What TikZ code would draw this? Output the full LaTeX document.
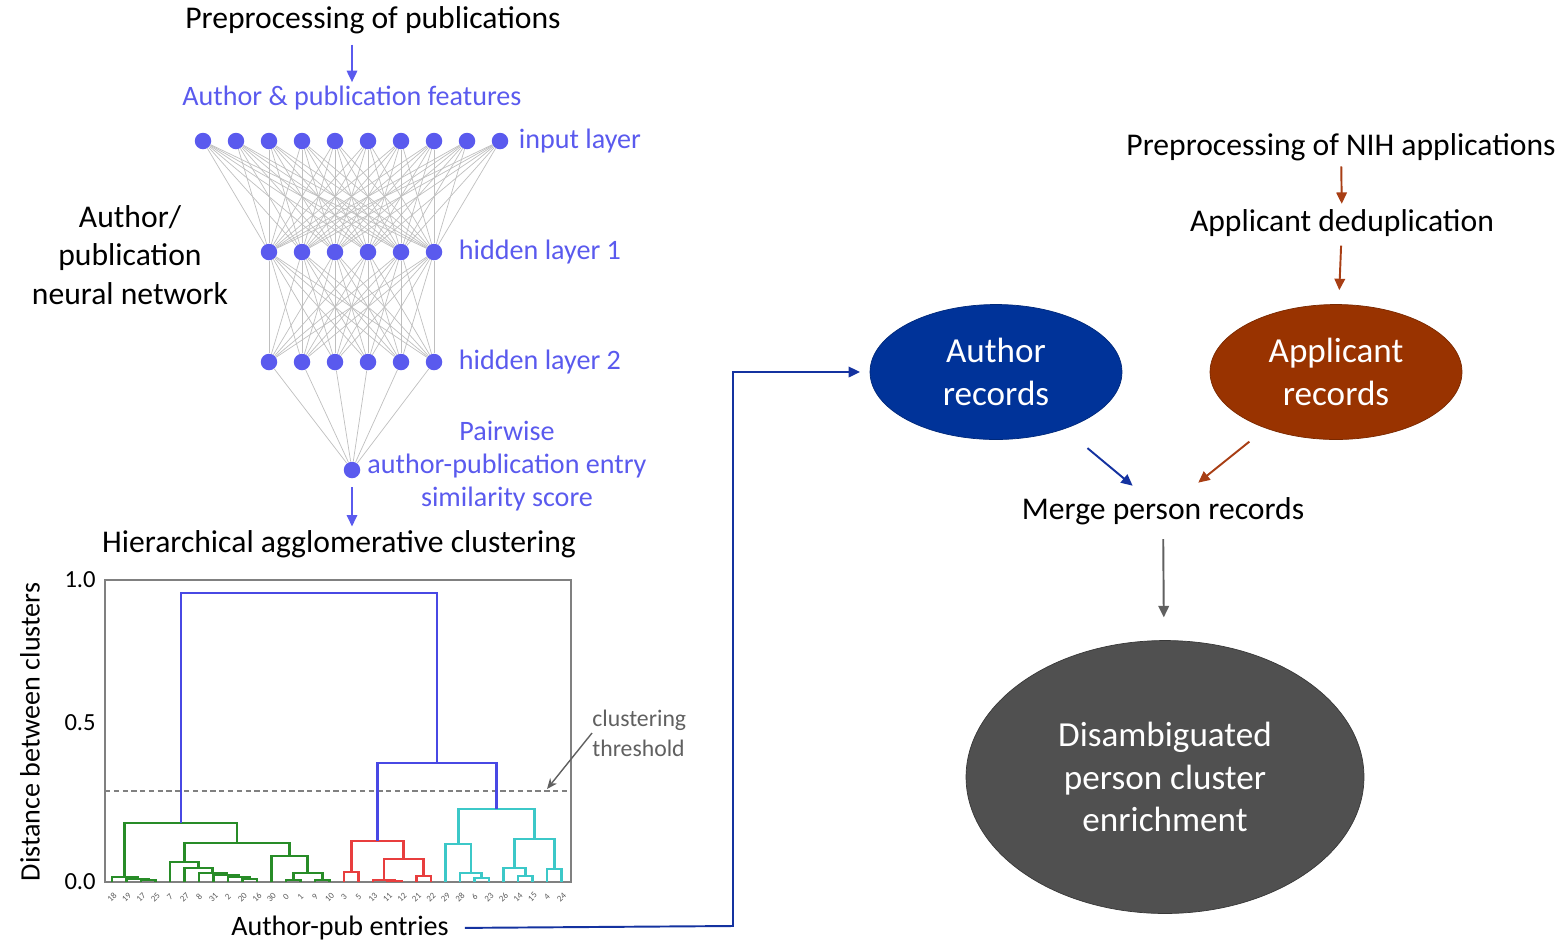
\documentclass[tikz,border=0pt]{standalone}
\usepackage{fontspec}
\setmainfont{Carlito}
\usetikzlibrary{arrows.meta,positioning,calc,shapes.geometric}

\definecolor{nnblue}{RGB}{90,90,238}
\definecolor{authblue}{RGB}{0,51,153}
\definecolor{applbrown}{RGB}{153,51,0}
\definecolor{arrbrown}{RGB}{168,62,20}
\definecolor{connblue}{RGB}{20,50,160}
\definecolor{darkcl}{RGB}{80,80,80}
\definecolor{dgreen}{RGB}{40,140,40}
\definecolor{dred}{RGB}{232,62,62}
\definecolor{dcyan}{RGB}{60,200,200}
\definecolor{dblue}{RGB}{72,72,228}

\tikzset{
  txt/.style={inner sep=0pt, font=\fontsize{18}{21.8}\selectfont},
  nntxt/.style={inner sep=0pt, text=nnblue, font=\fontsize{16}{18.7}\selectfont},
  axtxt/.style={inner sep=0pt, font=\fontsize{14}{17}\selectfont},
  leaflab/.style={inner sep=0pt, rotate=45, text=gray!70!black, font=\fontsize{5}{6}\selectfont},
  neuron/.style={circle, fill=nnblue, inner sep=0pt, minimum size=0.33cm},
  synapse/.style={draw=gray!50, line width=0.4pt},
  tip/.style={-{Triangle[length=6.5pt,width=6pt]}},
  nnarrow/.style={tip, draw=nnblue, line width=0.9pt},
  brarrow/.style={tip, draw=arrbrown, line width=1.1pt},
  blarrow/.style={tip, draw=connblue, line width=1.1pt},
  grarrow/.style={tip, draw=gray!75!black, line width=1.1pt},
  dendro/.style={line width=1.5pt},
  recnode/.style={ellipse, minimum width=5.04cm, minimum height=2.7cm, inner sep=0pt,
    text=white, align=center, font=\fontsize{20}{24.4}\selectfont},
}

% one U-shaped link of the dendrogram
\newcommand{\dlink}[6]{\draw[dendro,#6] (#1,#2) |- (#3,#5) -- (#3,#4);}

\begin{document}
\begin{tikzpicture}[x=0.02cm,y=-0.02cm]
\useasboundingbox (0,0) rectangle (1565,941);

% neural network
\node[txt] (prep) at (373,20) {Preprocessing of publications};
\node[nntxt] (feat) at (352,98) {Author \& publication features};
\foreach \i in {1,...,10}
  \node[neuron] (in\i) at ({170+33*\i},141) {};
\foreach \i in {1,...,6} {
  \node[neuron] (ha\i) at ({236+33*\i},252) {};
  \node[neuron] (hb\i) at ({236+33*\i},362) {};
}
\node[neuron] (out) at (352,470) {};
\foreach \i in {1,...,10}
  \foreach \j in {1,...,6}
    \draw[synapse] (in\i) -- (ha\j);
\foreach \i in {1,...,6} {
  \foreach \j in {1,...,6}
    \draw[synapse] (ha\i) -- (hb\j);
  \draw[synapse] (hb\i) -- (out);
}
\node[nntxt, right=0.2cm of in10] (inlab) {input layer};
\node[nntxt, right=0.32cm of ha6] (halab) {hidden layer 1};
\node[nntxt, right=0.32cm of hb6] (hblab) {hidden layer 2};
\node[nntxt, align=center] (pairlab) at (507,466)
  {Pairwise\\author-publication entry\\similarity score};
\node[txt, align=center] (nnlab) at (130,255)
  {Author/\\publication\\neural network};
\draw[nnarrow, shorten <=6pt, shorten >=2pt] (prep.south -| feat) -- (feat);

% dendrogram
\node[txt] (hac) at (339,544) {Hierarchical agglomerative clustering};
\draw[nnarrow, shorten <=5pt, shorten >=2pt] (out) -- (out |- hac.north);
\draw[gray, line width=0.9pt] (105,580) rectangle (571,882);
\node[axtxt, anchor=east] (t10) at (96,580) {1.0};
\node[axtxt, anchor=east] (t05) at (96,723) {0.5};
\node[axtxt, anchor=east] (t00) at (96,882) {0.0};
\node[txt, rotate=90, font=\fontsize{16}{19}\selectfont] (ylab) at (30,732) {Distance between clusters};
\draw[gray, dashed, dash pattern=on 3pt off 2pt, line width=0.6pt] (105,791) -- (571,791);
\dlink{141}{882}{155.5}{882}{880}{dgreen}
\dlink{126.5}{882}{148.25}{880}{879}{dgreen}
\dlink{112}{882}{137.4}{879}{877}{dgreen}
\dlink{242.5}{882}{257}{882}{879}{dgreen}
\dlink{228}{882}{249.75}{879}{877}{dgreen}
\dlink{213.5}{882}{238.9}{877}{875}{dgreen}
\dlink{199}{882}{226.2}{875}{873}{dgreen}
\dlink{184.5}{882}{212.6}{873}{868}{dgreen}
\dlink{170}{882}{198.5}{868}{862}{dgreen}
\dlink{286}{882}{300.5}{882}{880}{dgreen}
\dlink{315}{882}{329.5}{882}{880}{dgreen}
\dlink{293.25}{880}{322.25}{880}{873}{dgreen}
\dlink{271.5}{882}{307.75}{873}{856}{dgreen}
\dlink{184.3}{862}{289.6}{856}{843}{dgreen}
\dlink{124.7}{877}{237}{843}{823}{dgreen}
\dlink{344}{882}{358.5}{882}{872}{dred}
\dlink{387.5}{882}{402}{882}{881}{dred}
\dlink{373}{882}{394.75}{881}{880}{dred}
\dlink{416.5}{882}{431}{882}{876}{dred}
\dlink{383.9}{880}{423.75}{876}{859}{dred}
\dlink{351.25}{872}{403.8}{859}{841}{dred}
\dlink{474.5}{882}{489}{882}{878}{dcyan}
\dlink{460}{882}{481.75}{878}{873}{dcyan}
\dlink{445.5}{882}{470.9}{873}{844}{dcyan}
\dlink{518}{882}{532.5}{882}{876}{dcyan}
\dlink{503.5}{882}{525.25}{876}{868}{dcyan}
\dlink{547}{882}{561.5}{882}{869}{dcyan}
\dlink{514.4}{868}{554.25}{869}{839}{dcyan}
\dlink{458.2}{844}{534.3}{839}{809}{dcyan}
\dlink{377.5}{841}{496.3}{809}{763}{dblue}
\dlink{180.9}{823}{436.9}{763}{593}{dblue}
\foreach \lab [count=\k from 0] in {18,19,17,25,7,27,8,31,2,20,16,30,0,1,9,10,3,5,13,11,12,21,22,29,28,6,23,26,14,15,4,24}
  \node[leaflab] at ({112+14.5*\k},897) {\lab};
\node[txt, font=\fontsize{16}{19}\selectfont] (apub) at (340,928) {Author-pub entries};
\node[axtxt, align=left, anchor=west, text=gray!75!black, font=\fontsize{13.5}{17}\selectfont] (thr) at (592,733) {clustering\\threshold};
\coordinate (thrpt) at (547,789);
\draw[-{Stealth[length=6pt,width=5pt]}, gray!75!black, line width=0.8pt] (thr.west) -- (thrpt);

% records
\node[recnode, fill=authblue, draw=authblue!80!black] (authrec) at (996,372) {Author\\records};
\node[txt] (nihprep) at (1341,147) {Preprocessing of NIH applications};
\node[txt] (dedup) at (1342,223) {Applicant deduplication};
\node[recnode, fill=applbrown, draw=applbrown!80!black] (applrec) at (1336,372) {Applicant\\records};
\node[txt] (merge) at (1163,511) {Merge person records};
\node[recnode, fill=darkcl, draw=darkcl!70!black, minimum width=7.96cm, minimum height=5.46cm] (disamb) at (1165,777)
  {Disambiguated\\person cluster\\enrichment};
\coordinate (bend) at (733,926);
\draw[blarrow, shorten <=9pt, shorten >=5.5pt] (apub.east) -- (bend) |- (authrec.west);
\draw[brarrow, shorten <=3pt, shorten >=3pt] (nihprep) -- (dedup);
\draw[brarrow, shorten <=5pt, shorten >=8pt] (dedup) -- (applrec);
\draw[blarrow, shorten <=17pt, shorten >=10pt] (authrec) -- (merge);
\draw[brarrow, shorten <=12pt, shorten >=13pt] (applrec) -- (merge);
\draw[grarrow, shorten <=8pt, shorten >=13pt] (merge) -- (disamb);
\end{tikzpicture}
\end{document}
